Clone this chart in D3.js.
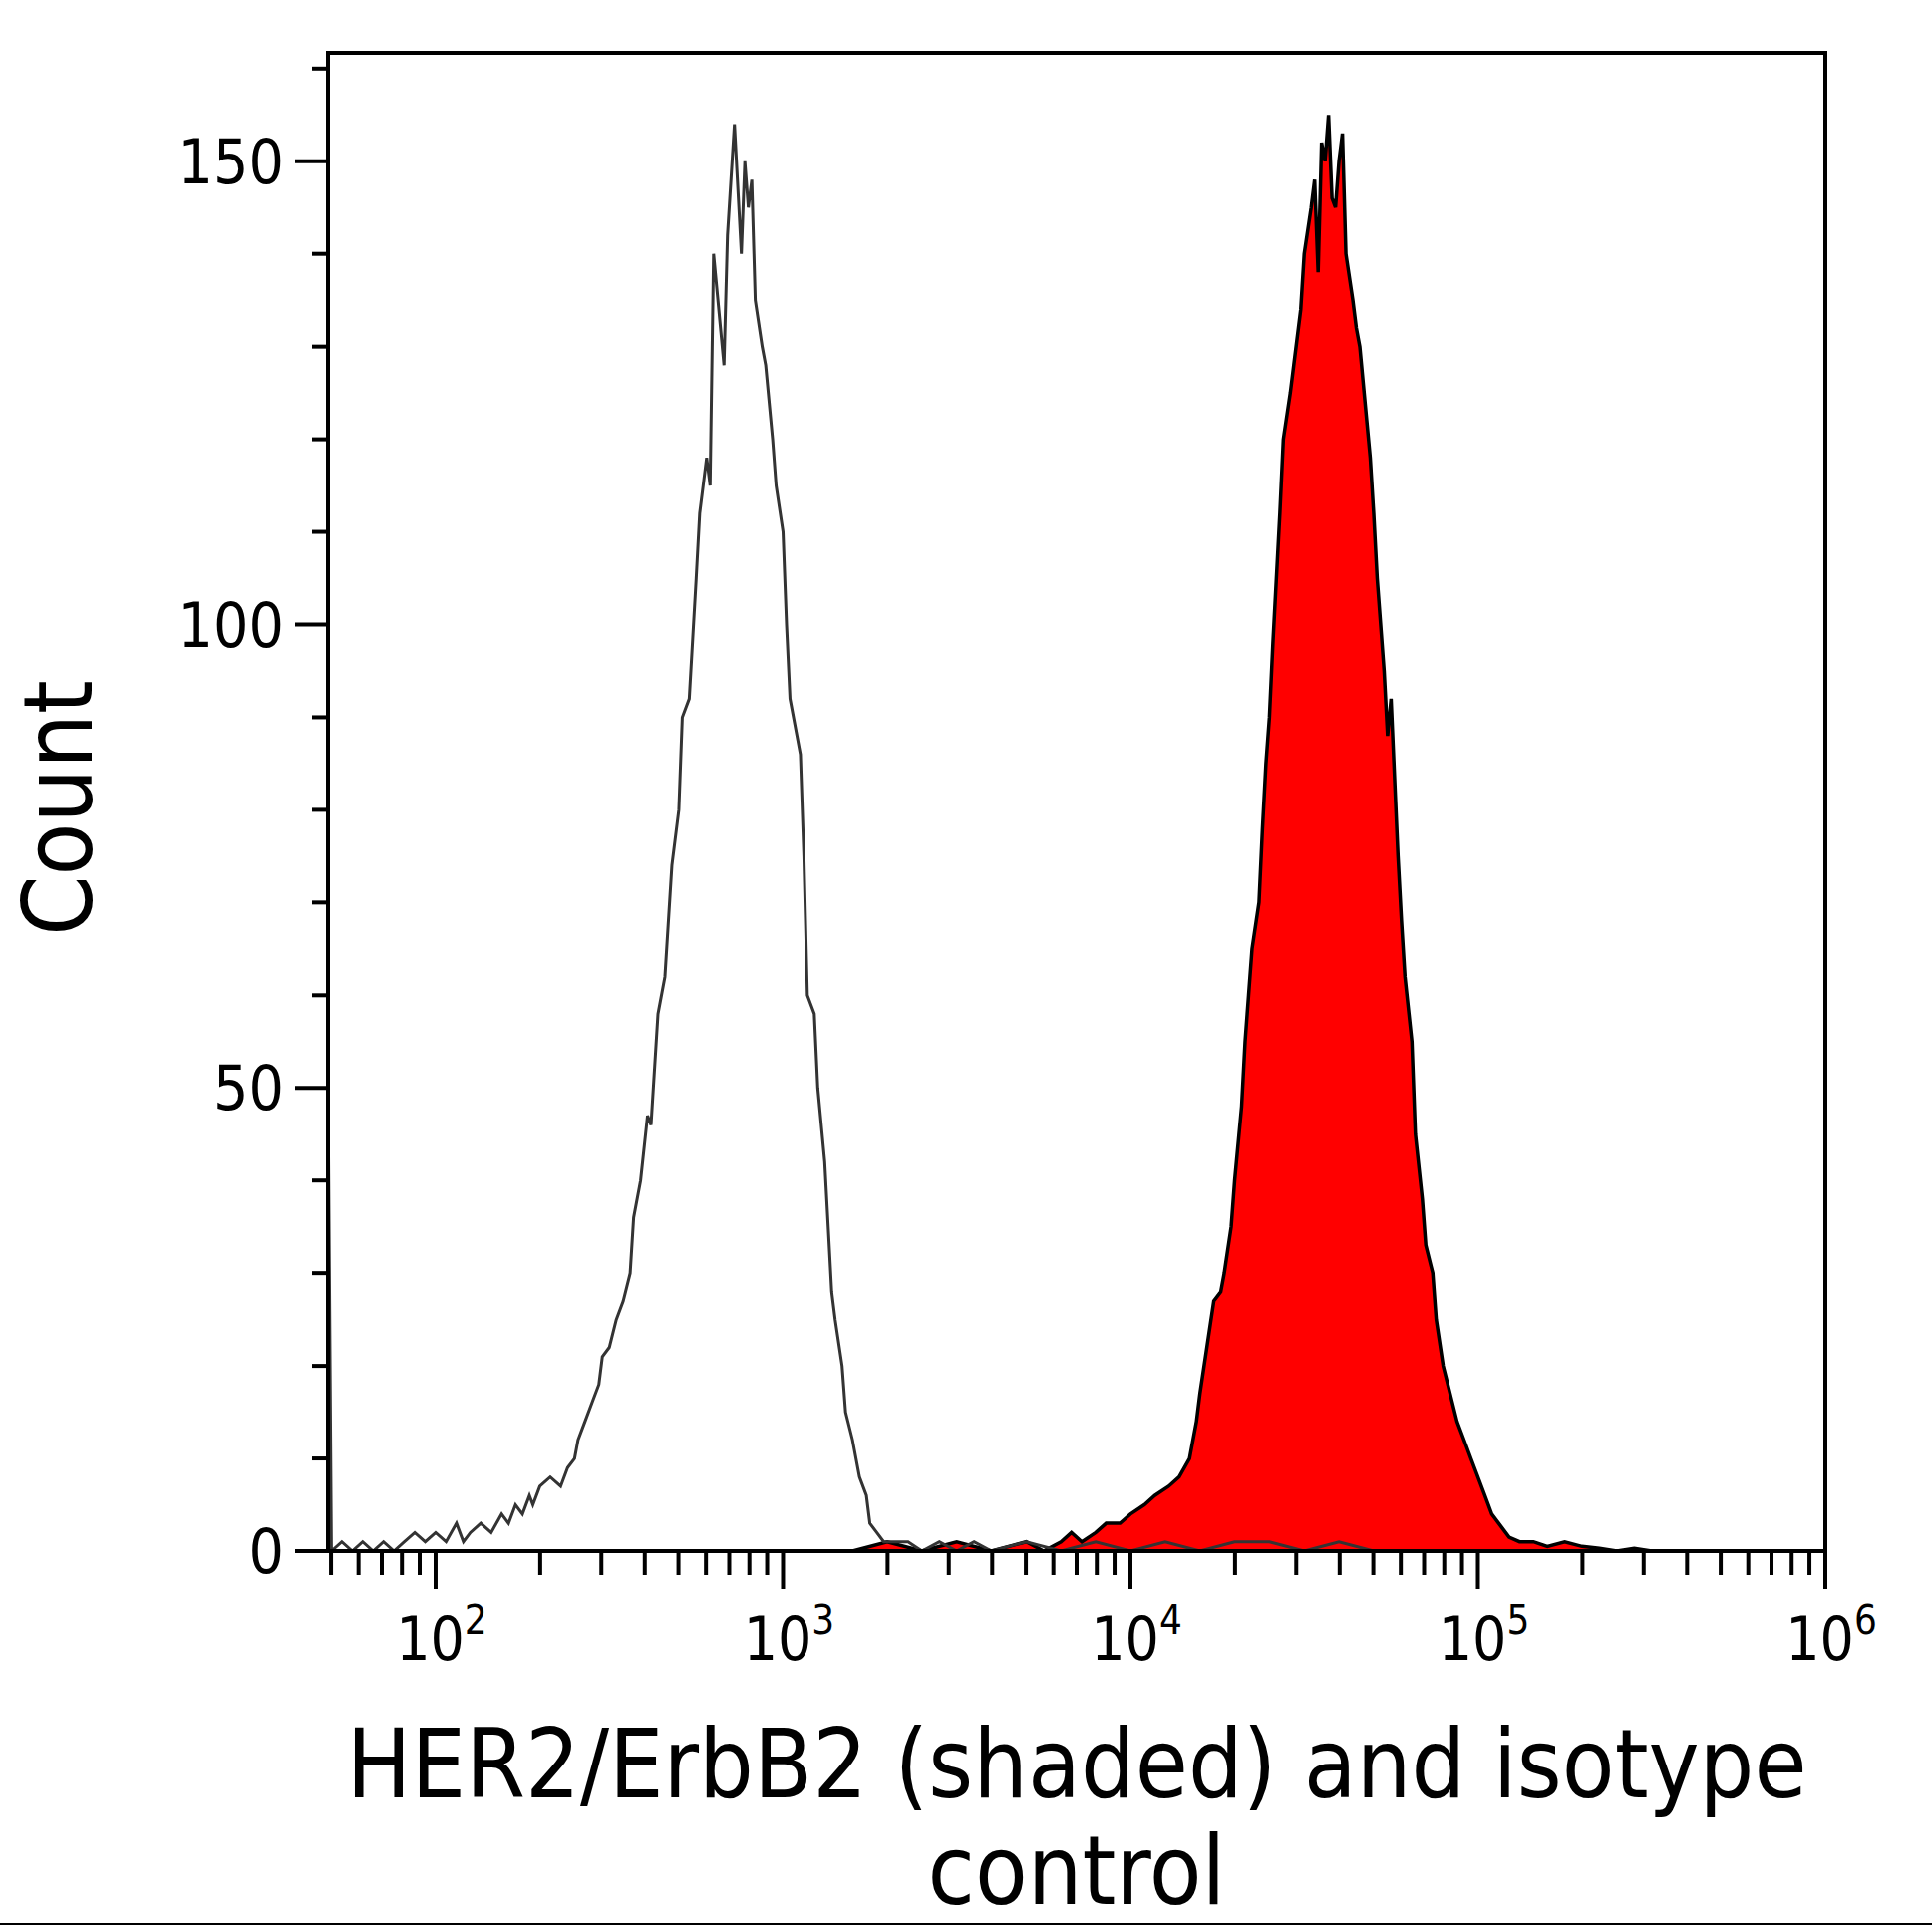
<!DOCTYPE html>
<html><head><meta charset="utf-8">
<script src="https://cdn.jsdelivr.net/npm/d3@7"></script>
<style>body{margin:0;background:#fff}text{font-family:"DejaVu Sans Condensed","DejaVu Sans",sans-serif}</style>
</head><body>
<div id="chart"></div>
<script>
// isotype control histogram (log10 of intensity, count)
const isoLog = [1.69,1.69,1.70,1.73,1.76,1.79,1.82,1.85,1.88,1.91,1.94,1.97,2.00,2.03,2.06,2.08,2.10,2.13,2.16,2.19,2.21,2.23,2.25,2.27,2.28,2.30,2.33,2.36,2.38,2.40,2.41,2.43,2.45,2.47,2.48,2.50,2.52,2.54,2.56,2.57,2.59,2.61,2.62,2.64,2.66,2.68,2.70,2.71,2.73,2.75,2.76,2.78,2.79,2.80,2.82,2.83,2.84,2.86,2.88,2.89,2.90,2.91,2.92,2.94,2.95,2.97,2.98,3.00,3.01,3.02,3.04,3.05,3.06,3.07,3.09,3.10,3.12,3.13,3.14,3.15,3.17,3.18,3.20,3.22,3.24,3.25,3.27,3.29,3.32,3.36,3.40,3.45,3.50,3.55,3.60,3.70,3.80,3.90,4.00,4.10,4.20,4.30,4.40,4.50,4.60,4.70,4.80,5.00];
const isoCount = [0,51,0,1,0,1,0,1,0,1,2,1,2,1,3,1,2,3,2,4,3,5,4,6,5,7,8,7,9,10,12,14,16,18,21,22,25,27,30,36,40,47,46,58,62,74,80,90,92,105,112,118,115,140,132,128,142,154,140,150,145,148,135,130,128,120,115,110,100,92,88,86,75,60,58,50,42,35,28,25,20,15,12,8,6,3,2,1,1,1,0,1,0,1,0,1,0,1,0,1,0,1,1,0,1,0,0,0];

// HER2/ErbB2 histogram
const herLog = [3.20,3.30,3.40,3.50,3.60,3.70,3.75,3.80,3.83,3.86,3.90,3.93,3.97,4.00,4.04,4.07,4.11,4.14,4.17,4.19,4.20,4.22,4.24,4.26,4.27,4.29,4.30,4.32,4.33,4.34,4.35,4.37,4.38,4.39,4.40,4.41,4.42,4.43,4.44,4.46,4.47,4.49,4.50,4.52,4.53,4.54,4.55,4.56,4.57,4.58,4.59,4.60,4.61,4.62,4.64,4.65,4.66,4.68,4.69,4.70,4.71,4.73,4.74,4.75,4.77,4.78,4.79,4.81,4.82,4.84,4.85,4.87,4.88,4.90,4.92,4.94,4.96,4.98,5.00,5.02,5.04,5.06,5.09,5.12,5.16,5.20,5.25,5.30,5.35,5.40,5.45,5.50,5.60,5.70,5.80,5.90,6.00];
const herCount = [0,1,0,1,0,1,0,1,2,1,2,3,3,4,5,6,7,8,10,14,17,22,27,28,30,35,40,48,55,60,65,70,78,85,90,98,105,112,120,125,128,134,140,145,148,138,152,150,155,146,145,150,153,140,135,132,130,122,118,112,105,95,88,92,75,68,62,55,45,38,33,30,25,20,17,14,12,10,8,6,4,3,1.5,1,1,0.5,1,0.5,0.3,0,0.3,0,0,0,0,0,0];

const yMajor = [0, 50, 100, 150];
const yMinor = [10,20,30,40,60,70,80,90,110,120,130,140,160];
const xDecades = [2, 3, 4, 5, 6];

const W = 1938, H = 1932;
const mLeft = 329, mRight = 1831, mTop = 53, mBottom = 1556;

const svg = d3.select("#chart").append("svg").attr("width", W).attr("height", H);

const x = d3.scaleLog().domain([49, 1e6]).range([mLeft, mRight]);
const y = d3.scaleLinear().domain([0, 161.7]).range([mBottom, mTop]);

const pts = (lg, c) => lg.map((l, i) => [Math.pow(10, l), c[i]]);

// red filled histogram
svg.append("path")
  .datum(pts(herLog, herCount))
  .attr("fill", "#ff0000")
  .attr("stroke", "#000")
  .attr("stroke-width", 3.5)
  .attr("d", d3.area().x(d => x(d[0])).y0(y(0)).y1(d => y(d[1])));

// isotype outline
svg.append("path")
  .datum(pts(isoLog, isoCount))
  .attr("fill", "none")
  .attr("stroke", "#333")
  .attr("stroke-width", 3)
  .attr("d", d3.line().x(d => x(d[0])).y(d => y(d[1])));

// frame
svg.append("rect")
  .attr("x", mLeft).attr("y", mTop)
  .attr("width", mRight - mLeft).attr("height", mBottom - mTop)
  .attr("fill", "none").attr("stroke", "#000").attr("stroke-width", 4);

// y axis
const yAx = svg.append("g");
yAx.selectAll("line.maj").data(yMajor).enter().append("line")
  .attr("x1", mLeft - 33).attr("x2", mLeft).attr("y1", d => y(d)).attr("y2", d => y(d))
  .attr("stroke", "#000").attr("stroke-width", 4);
yAx.selectAll("line.min").data(yMinor).enter().append("line")
  .attr("x1", mLeft - 16).attr("x2", mLeft).attr("y1", d => y(d)).attr("y2", d => y(d))
  .attr("stroke", "#000").attr("stroke-width", 4);
yAx.selectAll("text").data(yMajor).enter().append("text")
  .attr("x", mLeft - 44).attr("y", d => y(d) + 22)
  .attr("text-anchor", "end").attr("font-size", 62).text(d => d);

// x axis
const minorX = [];
for (let e = 1; e < 6; e++) for (let k = 2; k <= 9; k++) {
  const v = k * Math.pow(10, e);
  if (v >= 49) minorX.push(v);
}
const xAx = svg.append("g");
xAx.selectAll("line.min").data(minorX).enter().append("line")
  .attr("x1", d => x(d)).attr("x2", d => x(d)).attr("y1", mBottom).attr("y2", mBottom + 24)
  .attr("stroke", "#000").attr("stroke-width", 4);
xAx.selectAll("line.maj").data(xDecades).enter().append("line")
  .attr("x1", d => x(Math.pow(10, d))).attr("x2", d => x(Math.pow(10, d)))
  .attr("y1", mBottom).attr("y2", mBottom + 38)
  .attr("stroke", "#000").attr("stroke-width", 4);
const lbl = xAx.selectAll("text").data(xDecades).enter().append("text")
  .attr("x", d => x(Math.pow(10, d)) + 6).attr("y", 1665)
  .attr("text-anchor", "middle").attr("font-size", 60);
lbl.append("tspan").text("10");
lbl.append("tspan").attr("dy", -26).attr("font-size", 40).text(d => d);

// titles
svg.append("text")
  .attr("transform", `translate(92,${(mTop + mBottom) / 2 + 6}) rotate(-90)`)
  .attr("text-anchor", "middle").attr("font-size", 96).text("Count");
svg.append("text").attr("x", (mLeft + mRight) / 2).attr("y", 1803)
  .attr("text-anchor", "middle").attr("font-size", 96).text("HER2/ErbB2 (shaded) and isotype");
svg.append("text").attr("x", (mLeft + mRight) / 2).attr("y", 1910)
  .attr("text-anchor", "middle").attr("font-size", 96).text("control");

svg.append("line").attr("x1", 0).attr("x2", W).attr("y1", 1930).attr("y2", 1930)
  .attr("stroke", "#000").attr("stroke-width", 2);
</script>
</body></html>
